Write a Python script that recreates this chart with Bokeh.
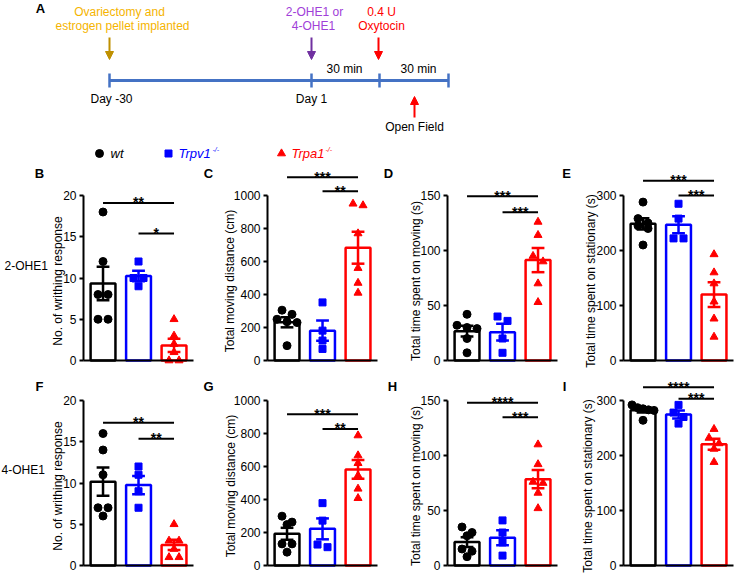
import math
from bokeh.plotting import figure
from bokeh.layouts import column, row
from bokeh.models import Range1d, FixedTicker, Label, Arrow, NormalHead, LinearAxis
from bokeh.core.properties import value
from bokeh.embed import file_html
from bokeh.resources import INLINE

FONT = "Liberation Sans"

# ---------------- data ----------------
groups = ["wt", "Trpv1", "Trpa1"]
group_colors = ["#000000", "#0000ff", "#ff0000"]
group_markers = ["circle", "square", "triangle"]
group_sizes = [8, 7, 8]

# 2-OHE1 row
B_wt = [18, 12, 8, 8, 5, 5]
B_trpv1 = [12, 10, 10, 9]
B_trpa1 = [5, 3, 2, 1, 0, 0]
C_wt = [305, 280, 250, 235, 230, 90]
C_trpv1 = [352, 181, 121, 70]
C_trpa1 = [950, 940, 770, 560, 470, 410]
D_wt = [42, 32, 30, 29, 20, 7]
D_trpv1 = [40, 36, 20, 7]
D_trpa1 = [126, 114, 95, 90, 70, 53]
E_wt = [288, 258, 250, 245, 240, 210]
E_trpv1 = [285, 258, 222, 222]
E_trpa1 = [193, 160, 140, 107, 76, 43]

# 4-OHE1 row
F_wt = [16, 14, 11, 7, 7, 6]
F_trpv1 = [12, 11, 9, 7]
F_trpa1 = [5, 3, 3, 2, 1, 1]
G_wt = [299, 263, 248, 131, 131, 81]
G_trpv1 = [378, 272, 127, 111]
G_trpa1 = [788, 667, 620, 545, 465, 408]
H_wt = [35, 30, 27, 15, 13, 8]
H_trpv1 = [41, 30, 21, 9]
H_trpa1 = [110, 92, 76, 75, 66, 52]
I_wt = [292, 287, 285, 283, 282, 264]
I_trpv1 = [292, 278, 270, 258]
I_trpa1 = [248, 232, 222, 212, 188]

# significance brackets: (from group, to group, level, stars)
B_sig = [(0, 2, 19.1, "**"), (1, 2, 15.4, "*")]
C_sig = [(0, 2, 1111, "***"), (1, 2, 1026, "**")]
D_sig = [(0, 2, 149.4, "***"), (1, 2, 134.8, "***")]
E_sig = [(0, 2, 327, "***"), (1, 2, 300, "***")]
F_sig = [(0, 2, 17.3, "**"), (1, 2, 15.35, "**")]
G_sig = [(0, 2, 917, "***"), (1, 2, 828, "**")]
H_sig = [(0, 2, 147.9, "****"), (1, 2, 134.8, "***")]
I_sig = [(0, 2, 324, "****"), (1, 2, 303, "***")]

ylab_writhing = "No. of writhing response"
ylab_distance = "Total moving distance (cm)"
ylab_moving = "Total time spent on moving (s)"
ylab_stat = "Total time spent on stationary (s)"

# ---------------- layout constants (pixels) ----------------
AXIS_PX = 165          # height of the 0..ymax axis
PPX = 35.5             # pixels per category step
X_LO, X_HI = -0.55, 2.55
col_x0 = [0, 198, 378, 558]
col_w = [198, 180, 180, 178]
col_axis = [83, 267, 447, 623]


def mean(v):
    return sum(v) / len(v)


def sem(v):
    m = mean(v)
    n = len(v)
    sd = math.sqrt(sum((x - m) ** 2 for x in v) / (n - 1))
    return sd / math.sqrt(n)


def swarm(vals, ppx, ppy, thr=7.0, sp=10.0, maxw=22.0):
    order = sorted(range(len(vals)), key=lambda i: -vals[i])
    offs = [0.0] * len(vals)
    rows, cur = [], []
    for i in order:
        if cur and (vals[cur[0]] - vals[i]) * ppy < thr:
            cur.append(i)
        else:
            if cur:
                rows.append(cur)
            cur = [i]
    if cur:
        rows.append(cur)
    for r in rows:
        n = len(r)
        s = sp if n < 2 else min(sp, maxw / (n - 1))
        for k, i in enumerate(r):
            offs[i] = (k - (n - 1) / 2) * s / ppx
    return offs


def make_panel(spec, col, height, zero_from_bottom, letter_above_zero, rowlabel_left):
    width = col_w[col]
    axis_local = col_axis[col] - col_x0[col]
    ymax = spec["ymax"]
    ppy = AXIS_PX / ymax
    xs = X_LO - axis_local / PPX
    xe = xs + width / PPX
    ys = -zero_from_bottom / ppy
    ye = ys + height / ppy
    p = figure(width=width, height=height, x_range=Range1d(xs, xe), y_range=Range1d(ys, ye),
               output_backend="svg", toolbar_location=None, x_axis_location=None,
               y_axis_location=None, min_border=0, min_border_left=0, min_border_right=0,
               min_border_top=0, min_border_bottom=0,
               outline_line_color=None, background_fill_color="white", border_fill_color="white")
    p.grid.visible = False

    yax = LinearAxis(fixed_location=X_LO, bounds=(0, ymax), ticker=FixedTicker(ticks=spec["ticks"]))
    yax.axis_line_width = 2
    yax.axis_line_color = "black"
    yax.major_tick_line_width = 2
    yax.major_tick_line_color = "black"
    yax.major_tick_out = 4
    yax.major_tick_in = 0
    yax.minor_tick_line_color = None
    yax.major_label_text_font = FONT
    yax.major_label_text_font_size = "12px"
    yax.major_label_text_color = "black"
    yax.major_label_standoff = 3
    p.add_layout(yax, "left")

    xax = LinearAxis(fixed_location=0, bounds=(X_LO, X_HI), ticker=FixedTicker(ticks=[]))
    xax.axis_line_width = 2
    xax.axis_line_color = "black"
    xax.major_tick_line_color = None
    xax.minor_tick_line_color = None
    xax.major_label_text_font_size = "0px"
    p.add_layout(xax, "below")

    data = spec["data"]
    xs_idx = list(range(len(groups)))
    means = [mean(v) for v in data]
    sems = [sem(v) for v in data]
    p.vbar(x=xs_idx, top=means, bottom=0, width=0.7, fill_color="white",
           line_color=group_colors, line_width=2.5)
    for gi, vals in enumerate(data):
        offs = swarm(vals, PPX, ppy)
        p.scatter(x=[gi + o for o in offs], y=vals, marker=group_markers[gi],
                  size=group_sizes[gi], color=group_colors[gi])
    cw = 0.18
    hi = [m + s for m, s in zip(means, sems)]
    lo = [m - s for m, s in zip(means, sems)]
    p.segment(x0=xs_idx, y0=lo, x1=xs_idx, y1=hi, line_color=group_colors, line_width=2.5)
    p.segment(x0=[i - cw for i in xs_idx], y0=hi, x1=[i + cw for i in xs_idx], y1=hi,
              line_color=group_colors, line_width=2.5)
    p.segment(x0=[i - cw for i in xs_idx], y0=lo, x1=[i + cw for i in xs_idx], y1=lo,
              line_color=group_colors, line_width=2.5)

    for (a, b, lev, stars) in spec["sig"]:
        p.segment(x0=[a], y0=[lev], x1=[b], y1=[lev], line_color="black", line_width=2)
        p.text(x=[(a + b) / 2], y=[lev + 0.5 / ppy], text=[stars], text_font=value(FONT),
               text_font_size="14px", text_font_style="bold", text_align="center",
               text_baseline="alphabetic", text_color="black")

    # y-axis title
    p.add_layout(Label(x=X_LO - spec["label_dx"] / PPX, y=ymax / 2 - 3 / ppy, text=spec["ylabel"],
                       angle=math.pi / 2, text_align="center", text_baseline="middle",
                       text_font=FONT, text_font_size="12px", text_color="black"))
    # panel letter
    p.add_layout(Label(x=X_LO - spec["letter_dx"] / PPX, y=letter_above_zero / ppy, text=spec["letter"],
                       text_align="center", text_baseline="middle", text_font=FONT,
                       text_font_size="13px", text_font_style="bold", text_color="black"))
    if spec.get("rowlabel"):
        p.add_layout(Label(x=xs + rowlabel_left / PPX, y=spec["rowlabel_y"] / ppy, text=spec["rowlabel"],
                           text_align="left", text_baseline="middle", text_font=FONT,
                           text_font_size="12px", text_color="black"))
    return p


row1_specs = [
    dict(letter="B", ylabel=ylab_writhing, ymax=20, ticks=[0, 5, 10, 15, 20],
         data=[B_wt, B_trpv1, B_trpa1], sig=B_sig, rowlabel="2-OHE1", rowlabel_y=95,
         label_dx=26, letter_dx=44),
    dict(letter="C", ylabel=ylab_distance, ymax=1000, ticks=[0, 200, 400, 600, 800, 1000],
         data=[C_wt, C_trpv1, C_trpa1], sig=C_sig, label_dx=38, letter_dx=59),
    dict(letter="D", ylabel=ylab_moving, ymax=150, ticks=[0, 50, 100, 150],
         data=[D_wt, D_trpv1, D_trpa1], sig=D_sig, label_dx=32, letter_dx=59),
    dict(letter="E", ylabel=ylab_stat, ymax=300, ticks=[0, 100, 200, 300],
         data=[E_wt, E_trpv1, E_trpa1], sig=E_sig, label_dx=33, letter_dx=57),
]
row2_specs = [
    dict(letter="F", ylabel=ylab_writhing, ymax=20, ticks=[0, 5, 10, 15, 20],
         data=[F_wt, F_trpv1, F_trpa1], sig=F_sig, rowlabel="4-OHE1", rowlabel_y=96,
         label_dx=26, letter_dx=44),
    dict(letter="G", ylabel=ylab_distance, ymax=1000, ticks=[0, 200, 400, 600, 800, 1000],
         data=[G_wt, G_trpv1, G_trpa1], sig=G_sig, label_dx=37, letter_dx=59),
    dict(letter="H", ylabel=ylab_moving, ymax=150, ticks=[0, 50, 100, 150],
         data=[H_wt, H_trpv1, H_trpa1], sig=H_sig, label_dx=32, letter_dx=55),
    dict(letter="I", ylabel=ylab_stat, ymax=300, ticks=[0, 100, 200, 300],
         data=[I_wt, I_trpv1, I_trpa1], sig=I_sig, label_dx=36, letter_dx=59),
]

row1 = [make_panel(s, k, 205, 10, 187, 4) for k, s in enumerate(row1_specs)]
row2 = [make_panel(s, k, 203, 8, 179, 1) for k, s in enumerate(row2_specs)]

# ---------------- panel A (schematic) ----------------
timeline_x = [109, 311, 379, 448]
timeline_y = 80
gold_text = "#f5b400"
gold_arrow = "#bf9000"
purple_text = "#a040d8"
purple_arrow = "#7030a0"
red = "#ff0000"
tl_blue = "#4472c4"

pA = figure(width=736, height=165, x_range=Range1d(0, 736), y_range=Range1d(165, 0),
            output_backend="svg", toolbar_location=None, x_axis_location=None, y_axis_location=None,
            min_border=0, outline_line_color=None)
pA.grid.visible = False


def txt(p, x, y, s, color="black", size="12px", align="center", style="normal", baseline="middle"):
    p.text(x=[x], y=[y], text=[s], text_color=color, text_font=value(FONT), text_font_size=size,
           text_align=align, text_baseline=baseline, text_font_style=style)


def arrow(p, x, y0, y1, color):
    p.add_layout(Arrow(end=NormalHead(size=8, fill_color=color, line_color=color, line_width=1),
                       x_start=x, y_start=y0, x_end=x, y_end=y1, line_color=color, line_width=2))


txt(pA, 40, 8, "A", size="13px", style="bold")
pA.line(x=[timeline_x[0], timeline_x[-1]], y=[timeline_y, timeline_y], line_color=tl_blue, line_width=3)
pA.segment(x0=timeline_x, y0=[timeline_y - 7] * 4, x1=timeline_x, y1=[timeline_y + 7] * 4,
           line_color=tl_blue, line_width=2.5)
txt(pA, 111, 98, "Day -30")
txt(pA, 311, 98, "Day 1")
txt(pA, 344, 68, "30 min")
txt(pA, 418, 68, "30 min")

txt(pA, 119, 11, "Ovariectomy and", color=gold_text)
txt(pA, 122, 25, "estrogen pellet implanted", color=gold_text)
arrow(pA, timeline_x[0], 37, 59, gold_arrow)

txt(pA, 314, 11, "2-OHE1 or", color=purple_text)
txt(pA, 313, 25, "4-OHE1", color=purple_text)
arrow(pA, timeline_x[1], 37, 59, purple_arrow)

txt(pA, 381, 11, "0.4 U", color=red)
txt(pA, 381, 25, "Oxytocin", color=red)
arrow(pA, 378, 37, 59, red)

arrow(pA, 414, 117, 96, red)
txt(pA, 414, 126, "Open Field")

# legend
leg_y = 153
pA.scatter([99], [leg_y], marker="circle", size=8, color=group_colors[0])
txt(pA, 110, leg_y, "wt", align="left", style="italic", size="13px")
pA.scatter([168], [leg_y], marker="square", size=7, color=group_colors[1])
txt(pA, 178, leg_y, "Trpv1", color=group_colors[1], align="left", style="italic", size="13px")
txt(pA, 212, leg_y - 4, "-/-", color=group_colors[1], align="left", style="italic", size="7px")
pA.scatter([281], [leg_y], marker="triangle", size=8, color=group_colors[2])
txt(pA, 291, leg_y, "Trpa1", color=group_colors[2], align="left", style="italic", size="13px")
txt(pA, 325, leg_y - 4, "-/-", color=group_colors[2], align="left", style="italic", size="7px")

layout = column(pA, row(*row1), row(*row2))
open("out.html", "w").write(file_html(layout, INLINE))
